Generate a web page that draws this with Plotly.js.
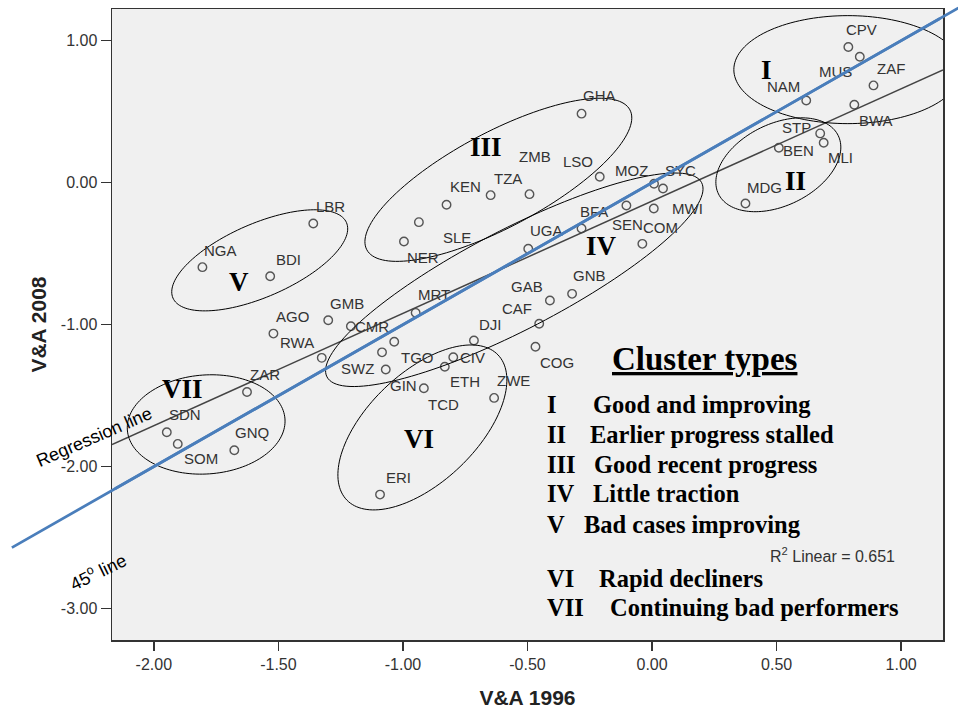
<!DOCTYPE html>
<html><head><meta charset="utf-8">
<script src="https://cdn.plot.ly/plotly-3.0.1.min.js"></script>
<style>html,body{margin:0;padding:0;background:#fff}#chart{width:958px;height:709px}</style>
</head><body><div id="chart"></div>
<script>
// ---------------- data ----------------
const countries = ["CPV","MUS","ZAF","NAM","BWA","STP","MLI","BEN","MDG",
  "GHA","LSO","ZMB","TZA","KEN","SLE","NER","LBR","NGA","BDI",
  "MOZ","SYC","SEN","MWI","BFA","COM","UGA","GNB","GAB","CAF","DJI","COG",
  "MRT","GMB","CMR","AGO","RWA","TGO","SWZ","GIN","CIV","ETH","TCD","ZWE","ERI",
  "ZAR","SDN","SOM","GNQ"];
const va1996 = [0.788,0.834,0.889,0.619,0.812,0.675,0.689,0.509,0.375,
  -0.283,-0.210,-0.492,-0.648,-0.825,-0.936,-0.996,-1.360,-1.805,-1.533,
  0.008,0.044,-0.103,0.007,-0.283,-0.039,-0.497,-0.321,-0.410,-0.453,-0.715,-0.468,
  -0.949,-1.300,-1.209,-1.520,-1.326,-1.035,-1.084,-1.069,-0.798,-0.832,-0.916,-0.634,-1.092,
  -1.626,-1.948,-1.904,-1.677];
const va2008 = [0.955,0.887,0.685,0.579,0.549,0.347,0.281,0.246,-0.147,
  0.486,0.042,-0.081,-0.088,-0.156,-0.278,-0.414,-0.288,-0.595,-0.659,
  -0.008,-0.041,-0.161,-0.182,-0.323,-0.431,-0.466,-0.783,-0.830,-0.994,-1.112,-1.156,
  -0.917,-0.969,-1.011,-1.063,-1.234,-1.121,-1.195,-1.316,-1.230,-1.297,-1.448,-1.516,-2.197,
  -1.474,-1.758,-1.840,-1.885];

const xTickVals = [-2,-1.5,-1,-0.5,0,0.5,1];
const xTickText = ["-2.00","-1.50","-1.00","-0.50","0.00","0.50","1.00"];
const yTickVals = [1,0,-1,-2,-3];
const yTickText = ["1.00","0.00","-1.00","-2.00","-3.00"];

const clusterNumerals = ["I","II","III","IV","V","VI","VII"];
const clusterNames = ["Good and improving","Earlier progress stalled","Good recent progress",
  "Little traction","Bad cases improving","Rapid decliners","Continuing bad performers"];
const legendTitle = "Cluster types";
const r2Text = "R<sup>2</sup> Linear = 0.651";
const regressionLabel = "Regression line";
const diagonalLabel = "45<sup>o</sup> line";
const diagonalEnds = [-2.57, 1.23];   // the 45 degree line y = x, from / to

// ---------------- placement / style (not data) ----------------
const labelDx = [13,-24,17,-23,22,-24,17,20,19, 18,-22,6,17,19,38,19,17,18,18,
  -23,17,1,34,12,18,18,17,-23,-22,17,22, 18,19,21,19,-25,23,-25,18,19,20,20,19,18, 18,18,23,18];
const labelDy = [-18,15,-17,-14,16,-6,15,3,-16, -18,-15,-38,-17,-18,15,16,-17,-17,-17,
  -13,-18,19,0,-17,-16,-18,-18,-14,-15,-16,16, -18,-17,0,-17,-15,16,16,16,0,15,16,-17,-17, -17,-18,15,-18];

const numeralX = [0.4577,0.5751,-0.6666,-0.2029,-1.6589,-0.9356,-1.8838];
const numeralY = [0.7956,0.0148,0.2509,-0.4496,-0.6963,-1.8034,-1.4539];

const ellipseCX = [0.786,0.507,-0.617,-0.553,-1.575,-0.922,-1.790];
const ellipseCY = [0.796,0.126,0.020,-0.684,-0.547,-1.724,-1.703];
const ellipseA = [114,66.6,149,211,94.6,104.8,79];   // px
const ellipseB = [54,40.9,47.5,50,36.7,54.4,49.5];   // px
const ellipseRot = [0,26,28,27.4,23.5,43.8,4];      // deg

const legendNumX = -0.4305;
const legendTextX = [-0.2431,-0.2567,-0.2391,-0.2471,-0.2832,-0.2206,-0.1788];
const legendY = [-1.5603,-1.7759,-1.9873,-2.1874,-2.4101,-2.7865,-2.9929];

const W = 958, H = 709;
const M = {l:112, r:15, t:9, b:69};
const xRange = [-2.168, 1.168];
const yRange = [-3.221, 1.223];

const SANS = "Liberation Sans, Arial, sans-serif";
const SERIF = "Liberation Serif, Times New Roman, serif";
const BLUE = "#4a7ebb";

// ---------------- derived ----------------
function ols(xs, ys) {
  const n = xs.length;
  const mx = xs.reduce((a,b)=>a+b,0)/n, my = ys.reduce((a,b)=>a+b,0)/n;
  let sxy=0, sxx=0;
  for (let i=0;i<n;i++){ sxy+=(xs[i]-mx)*(ys[i]-my); sxx+=(xs[i]-mx)**2; }
  const slope = sxy/sxx;
  return {slope, intercept: my - slope*mx};
}
const fit = ols(va1996, va2008);

const pxPerX = (W - M.l - M.r) / (xRange[1]-xRange[0]);
const pxPerY = (H - M.t - M.b) / (yRange[1]-yRange[0]);
function ellipsePath(i) {
  const th = ellipseRot[i]*Math.PI/180, a = ellipseA[i], b = ellipseB[i];
  let d = "";
  const N = 144;
  for (let k=0;k<=N;k++){
    const t = 2*Math.PI*k/N;
    const px = a*Math.cos(th)*Math.cos(t) - b*Math.sin(th)*Math.sin(t);
    const py = a*Math.sin(th)*Math.cos(t) + b*Math.cos(th)*Math.sin(t);
    const x = ellipseCX[i] + px/pxPerX, y = ellipseCY[i] + py/pxPerY;
    d += (k===0?"M":"L") + x.toFixed(5) + "," + y.toFixed(5);
  }
  return d + "Z";
}

const traces = [
  {type:"scatter", mode:"markers", x:va1996, y:va2008, hoverinfo:"none",
   marker:{symbol:"circle-open", size:8.5, color:"#555", line:{width:1.4, color:"#555"}}},
  {type:"scatter", mode:"lines", x:xRange, y:xRange.map(v=>fit.intercept+fit.slope*v), hoverinfo:"none",
   line:{color:"#444", width:1.5}}
];

const shapes = clusterNumerals.map((_,i)=>({type:"path", xref:"x", yref:"y", path:ellipsePath(i),
  line:{color:"#000", width:1}, fillcolor:"rgba(0,0,0,0)", layer:"above"}));

const ann = [];
countries.forEach((c,i)=>ann.push({x:va1996[i], y:va2008[i], xref:"x", yref:"y", text:c, showarrow:false,
  xshift:labelDx[i], yshift:-labelDy[i], xanchor:"center", yanchor:"middle",
  font:{family:SANS, size:15, color:"#333"}}));
clusterNumerals.forEach((n,i)=>ann.push({x:numeralX[i], y:numeralY[i], xref:"x", yref:"y", text:n, showarrow:false,
  xanchor:"center", yanchor:"middle", font:{family:SERIF, size:27, color:"#000", weight:"bold"}}));
ann.push({x:0.2118, y:-1.241, xref:"x", yref:"y", text:"<u>"+legendTitle+"</u>", showarrow:false,
  xanchor:"center", yanchor:"middle", font:{family:SERIF, size:33, color:"#000", weight:"bold"}});
clusterNumerals.forEach((n,i)=>{
  ann.push({x:legendNumX, y:legendY[i], xref:"x", yref:"y", text:n, showarrow:false,
    xanchor:"left", yanchor:"middle", font:{family:SERIF, size:24.5, color:"#000", weight:"bold"}});
  ann.push({x:legendTextX[i], y:legendY[i], xref:"x", yref:"y", text:clusterNames[i], showarrow:false,
    xanchor:"left", yanchor:"middle", font:{family:SERIF, size:24.5, color:"#000", weight:"bold"}});
});
ann.push({x:0.9837, y:-2.619, xref:"x", yref:"y", text:r2Text, showarrow:false,
  xanchor:"right", yanchor:"middle", font:{family:SANS, size:16, color:"#333"}});
ann.push({x:-0.0215, y:0.3222, xref:"paper", yref:"paper", text:regressionLabel, showarrow:false,
  textangle:-23.5, xanchor:"center", yanchor:"middle", font:{family:SANS, size:18, color:"#000"}});
ann.push({x:-0.0170, y:0.1078, xref:"paper", yref:"paper", text:diagonalLabel, showarrow:false,
  textangle:-26, xanchor:"center", yanchor:"middle", font:{family:SANS, size:18, color:"#000"}});
// 45 degree line, drawn as two overlapping arrows so it may run past the frame
const tailHi = Math.min(diagonalEnds[1], xRange[1], yRange[1]) - 0.01;
const tailLo = Math.max(diagonalEnds[0], xRange[0], yRange[0]) + 0.01;
[[diagonalEnds[0], tailHi],[diagonalEnds[1], tailLo]].forEach(([h,t])=>ann.push({
  x:h, y:h, ax:t, ay:t, xref:"x", yref:"y", axref:"x", ayref:"y", text:" ", showarrow:true,
  arrowhead:0, arrowwidth:2.75, arrowcolor:BLUE, standoff:0, startstandoff:0, borderpad:0,
  font:{size:1}}));

const axisCommon = {showgrid:false, zeroline:false, showline:true, linewidth:1.5, linecolor:"#333",
  mirror:true, ticks:"outside", tickwidth:1.5, tickcolor:"#333",
  tickfont:{family:SANS, size:16, color:"#333"}, tickmode:"array", fixedrange:true};

const layout = {
  width:W, height:H, margin:M, paper_bgcolor:"#fff", plot_bgcolor:"#f0f0f0", showlegend:false,
  xaxis:Object.assign({}, axisCommon, {range:xRange, tickvals:xTickVals, ticktext:xTickText, ticklen:9,
    title:{text:"V&A 1996", standoff:18, font:{family:SANS, size:21, color:"#222", weight:"bold"}}}),
  yaxis:Object.assign({}, axisCommon, {range:yRange, tickvals:yTickVals, ticktext:yTickText, ticklen:10,
    title:{text:"V&A 2008", standoff:8, font:{family:SANS, size:21, color:"#222", weight:"bold"}}}),
  shapes:shapes, annotations:ann
};
Plotly.newPlot("chart", traces, layout, {displayModeBar:false, staticPlot:true});
</script></body></html>
